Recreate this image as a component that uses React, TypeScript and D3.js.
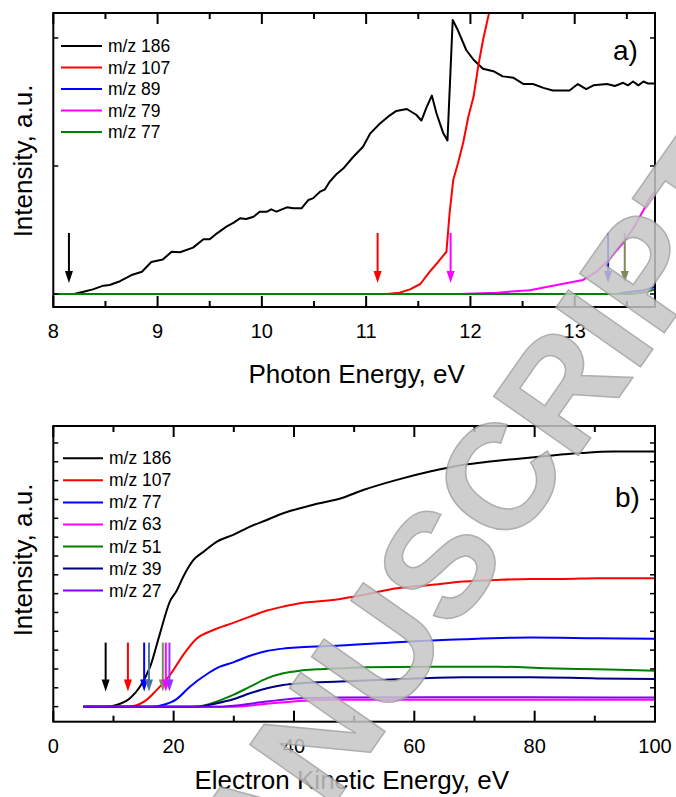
import React from 'react';
import * as d3 from 'd3';

const W = 676;
const H = 797;
const FONT = 'Liberation Sans, Arial, sans-serif';

// ---------- Panel a) photon energy ----------
const aLegend = ['m/z 186', 'm/z 107', 'm/z 89', 'm/z 79', 'm/z 77'];
const aColors = ['#000000', '#ff0000', '#0000ff', '#ff00ff', '#008000'];
const aMz186: [number, number][] = [
  [8.0, 0], [8.2, 0], [8.3, 0.02], [8.38, 0.036], [8.48, 0.065], [8.54, 0.07], [8.64, 0.1], [8.75, 0.148],
  [8.85, 0.174], [8.94, 0.25], [9.05, 0.27], [9.135, 0.33], [9.215, 0.326], [9.34, 0.362], [9.44, 0.427],
  [9.5, 0.427], [9.57, 0.474], [9.66, 0.526], [9.73, 0.557], [9.79, 0.591], [9.85, 0.586], [9.92, 0.604],
  [9.98, 0.643], [10.05, 0.643], [10.09, 0.661], [10.14, 0.643], [10.24, 0.677], [10.3, 0.669], [10.38, 0.669],
  [10.445, 0.734], [10.49, 0.747], [10.56, 0.8], [10.605, 0.818], [10.65, 0.877], [10.72, 0.94], [10.78, 0.98],
  [10.875, 1.07], [10.97, 1.15], [11.04, 1.255], [11.13, 1.33], [11.21, 1.385], [11.29, 1.43], [11.39, 1.445],
  [11.48, 1.4], [11.53, 1.355], [11.58, 1.46], [11.63, 1.55], [11.675, 1.41], [11.74, 1.255], [11.78, 1.2],
  [11.83, 2.14], [11.88, 2.06], [11.96, 1.906], [12.03, 1.83], [12.12, 1.76], [12.22, 1.74], [12.31, 1.7],
  [12.41, 1.69], [12.51, 1.64], [12.6, 1.64], [12.7, 1.61], [12.79, 1.59], [12.89, 1.59], [12.95, 1.59],
  [13.03, 1.64], [13.11, 1.6], [13.18, 1.63], [13.31, 1.64], [13.385, 1.625], [13.465, 1.65], [13.51, 1.63],
  [13.56, 1.66], [13.61, 1.63], [13.66, 1.66], [13.7, 1.645], [13.77, 1.645],
];
const aMz107: [number, number][] = [
  [8.0, 0], [11.2, 0], [11.32, 0.01], [11.42, 0.036], [11.52, 0.078], [11.61, 0.174], [11.69, 0.25],
  [11.77, 0.33], [11.8, 0.63], [11.835, 0.89], [11.88, 1.02], [11.93, 1.18], [11.98, 1.385], [12.03, 1.54],
  [12.075, 1.78], [12.12, 1.98], [12.18, 2.2], [12.25, 2.5],
];
const aMz89: [number, number][] = [[8.0, 0], [13.4, 0], [13.465, 0.01], [13.66, 0.03], [13.77, 0.055]];
const aMz79: [number, number][] = [
  [8.0, 0], [11.9, 0], [12.25, 0.01], [12.57, 0.03], [12.89, 0.08], [13.08, 0.11], [13.21, 0.174],
  [13.34, 0.28], [13.465, 0.4], [13.56, 0.51], [13.66, 0.656], [13.72, 0.75], [13.77, 0.8],
];
const aMz77: [number, number][] = [[8.0, 0], [13.55, 0], [13.66, 0.012], [13.77, 0.035]];
const aSeries = [aMz186, aMz107, aMz89, aMz79, aMz77];
const aXDomain: [number, number] = [8, 13.77];
const aYDomain: [number, number] = [-0.1016, 2.195];
const aXMajor = [8, 9, 10, 11, 12, 13];
const aXMinor = [8.5, 9.5, 10.5, 11.5, 12.5, 13.5];
const aYTicks = [0, 1, 2];
const aArrowX = [8.15, 11.11, 11.81, 13.32, 13.48];
const aArrowColors = ['#000000', '#ff0000', '#ff00ff', '#0000ff', '#7d8c5a'];
const aArrowTop = 0.477;
const aArrowTip = 0.086;

// ---------- Panel b) electron kinetic energy ----------
const bLegend = ['m/z 186', 'm/z 107', 'm/z 77', 'm/z 63', 'm/z 51', 'm/z 39', 'm/z 27'];
const bColors = ['#000000', '#ff0000', '#0000ff', '#ff00ff', '#008000', '#000080', '#8000ff'];
const bMz186: [number, number][] = [
  [5, 0], [9, 0], [10.5, 0.09], [12.75, 0.45], [14.4, 1.06], [16.1, 2.12], [17.7, 3.85], [19.4, 5.6],
  [20.5, 6.15], [21.6, 6.9], [23.3, 7.79], [25, 8.23], [27.2, 8.76], [29.9, 9.12], [32.7, 9.56], [35.5, 9.91],
  [38.2, 10.27], [41, 10.53], [43.8, 10.77], [47.7, 11.05], [51.5, 11.5], [57.1, 12.04], [62.6, 12.48],
  [68.2, 12.84], [72.6, 13.01], [76.5, 13.14], [82, 13.31], [87.6, 13.46], [93.1, 13.54], [100, 13.54],
];
const bMz107: [number, number][] = [
  [5, 0], [12, 0], [13.3, 0.03], [15.5, 0.36], [17.2, 0.89], [19.4, 1.68], [21.6, 2.75], [23.8, 3.6],
  [26.6, 4.07], [29.9, 4.45], [32.7, 4.78], [35.5, 5.1], [38.2, 5.31], [41, 5.49], [43.8, 5.58], [47.7, 5.72],
  [51.5, 5.93], [57.1, 6.29], [62.6, 6.46], [68.2, 6.64], [73.7, 6.73], [79.3, 6.78], [84.8, 6.78],
  [90.4, 6.82], [100, 6.82],
];
const bMz77: [number, number][] = [
  [5, 0], [16.5, 0], [17.7, 0.05], [19.4, 0.21], [20.5, 0.4], [22.7, 1.06], [25.5, 1.72], [27.7, 2.12],
  [29.9, 2.35], [32.7, 2.7], [35.5, 2.95], [38.2, 3.08], [41, 3.15], [47.7, 3.24], [57.1, 3.42], [68.2, 3.58],
  [79.3, 3.67], [90.4, 3.63], [100, 3.6],
];
const bMz63: [number, number][] = [[5, 0], [30, 0], [35.5, 0.15], [41, 0.3], [47.7, 0.36], [62.6, 0.37], [100, 0.37]];
const bMz51: [number, number][] = [
  [5, 0], [23, 0], [24.4, 0.02], [27.2, 0.27], [29.9, 0.62], [32.7, 1.06], [35.5, 1.5], [38.2, 1.77],
  [41, 1.91], [43.8, 1.98], [47.7, 2.04], [51.5, 2.09], [62.6, 2.12], [73.7, 2.12], [82, 2.04], [90.4, 1.98],
  [100, 1.91],
];
const bMz39: [number, number][] = [
  [5, 0], [24, 0], [27.2, 0.18], [29.9, 0.39], [32.7, 0.71], [35.5, 0.98], [38.2, 1.15], [41, 1.24],
  [47.7, 1.33], [57.1, 1.45], [68.2, 1.56], [79.3, 1.56], [90.4, 1.5], [100, 1.47],
];
const bMz27: [number, number][] = [
  [5, 0], [28, 0], [29.9, 0.05], [35.5, 0.27], [41, 0.44], [47.7, 0.48], [62.6, 0.5], [79.3, 0.5], [100, 0.48],
];
const bSeries = [bMz186, bMz107, bMz77, bMz63, bMz51, bMz39, bMz27];
const bXDomain: [number, number] = [0, 100];
const bYDomain: [number, number] = [-0.8, 14.9];
const bXMajor = [0, 20, 40, 60, 80, 100];
const bXMinor = [10, 30, 50, 70, 90];
const bYTicks = d3.range(0, 15);
const bArrowX = [8.7, 12.4, 15.1, 15.9, 18.2, 18.7, 19.3];
const bArrowColors = ['#000000', '#ff0000', '#0000ff', '#4a6fa0', '#7d8c5a', '#ff00ff', '#9933ff'];
const bArrowTop = 3.4;
const bArrowTip = 0.8;

type PanelProps = {
  id: string;
  box: { l: number; r: number; t: number; b: number };
  xDomain: [number, number];
  yDomain: [number, number];
  series: [number, number][][];
  colors: string[];
  legend: string[];
  legendPos: { x: number; y: number; dy: number; len: number };
  xMajor: number[];
  xMinor: number[];
  yTicks: number[];
  arrowsX: number[];
  arrowColors: string[];
  arrowTop: number;
  arrowTip: number;
  smooth: boolean;
  label: string;
  labelPos: { x: number; y: number };
  xTitle: string;
  xTitlePos: { x: number; y: number };
  yTitleY: number;
};

function Panel(p: PanelProps) {
  const x = d3.scaleLinear().domain(p.xDomain).range([p.box.l, p.box.r]);
  const y = d3.scaleLinear().domain(p.yDomain).range([p.box.b, p.box.t]);
  const line = d3
    .line<[number, number]>()
    .x((d) => x(d[0]))
    .y((d) => y(d[1]))
    .curve(p.smooth ? d3.curveMonotoneX : d3.curveLinear);
  const clipId = `clip-${p.id}`;
  const majorLen = 11;
  const minorLen = 6;
  const yLen = 5;
  return (
    <g>
      <defs>
        <clipPath id={clipId}>
          <rect x={p.box.l} y={p.box.t} width={p.box.r - p.box.l} height={p.box.b - p.box.t} />
        </clipPath>
      </defs>
      <g clipPath={`url(#${clipId})`}>
        {p.series.map((s, i) => (
          <path key={i} d={line(s) || ''} fill="none" stroke={p.colors[i]} strokeWidth={2} strokeLinejoin="round" />
        ))}
      </g>
      {p.arrowsX.map((ax, i) => {
        const cx = x(ax);
        const yt = y(p.arrowTop);
        const yb = y(p.arrowTip);
        return (
          <g key={i}>
            <line x1={cx} x2={cx} y1={yt} y2={yb - 10} stroke={p.arrowColors[i]} strokeWidth={2} />
            <path d={`M${cx - 4},${yb - 12} L${cx + 4},${yb - 12} L${cx},${yb} Z`} fill={p.arrowColors[i]} />
          </g>
        );
      })}
      <rect
        x={p.box.l}
        y={p.box.t}
        width={p.box.r - p.box.l}
        height={p.box.b - p.box.t}
        fill="none"
        stroke="#000"
        strokeWidth={2}
      />
      {p.xMajor.map((v) => (
        <g key={`xm${v}`}>
          <line x1={x(v)} x2={x(v)} y1={p.box.b} y2={p.box.b - majorLen} stroke="#000" strokeWidth={2} />
          <line x1={x(v)} x2={x(v)} y1={p.box.t} y2={p.box.t + majorLen} stroke="#000" strokeWidth={2} />
          <text x={x(v)} y={p.box.b + 31} textAnchor="middle" fontSize={20} fontFamily={FONT} fill="#000">
            {v}
          </text>
        </g>
      ))}
      {p.xMinor.map((v) => (
        <g key={`xn${v}`}>
          <line x1={x(v)} x2={x(v)} y1={p.box.b} y2={p.box.b - minorLen} stroke="#000" strokeWidth={2} />
          <line x1={x(v)} x2={x(v)} y1={p.box.t} y2={p.box.t + minorLen} stroke="#000" strokeWidth={2} />
        </g>
      ))}
      {p.yTicks.map((v) => (
        <g key={`y${v}`}>
          <line x1={p.box.l} x2={p.box.l + yLen} y1={y(v)} y2={y(v)} stroke="#000" strokeWidth={1.5} />
          <line x1={p.box.r} x2={p.box.r - yLen} y1={y(v)} y2={y(v)} stroke="#000" strokeWidth={1.5} />
        </g>
      ))}
      {p.legend.map((name, i) => {
        const ly = p.legendPos.y + i * p.legendPos.dy;
        return (
          <g key={name + i}>
            <line
              x1={p.legendPos.x}
              x2={p.legendPos.x + p.legendPos.len}
              y1={ly}
              y2={ly}
              stroke={p.colors[i]}
              strokeWidth={2}
            />
            <text x={p.legendPos.x + p.legendPos.len + 6} y={ly + 6} fontSize={17.5} fontFamily={FONT} fill="#000">
              {name}
            </text>
          </g>
        );
      })}
      <text x={p.labelPos.x} y={p.labelPos.y} fontSize={28} fontFamily={FONT} fill="#000">
        {p.label}
      </text>
      <text x={p.xTitlePos.x} y={p.xTitlePos.y} textAnchor="middle" fontSize={26} fontFamily={FONT} fill="#000">
        {p.xTitle}
      </text>
      <text
        transform={`translate(32,${p.yTitleY}) rotate(-90)`}
        textAnchor="middle"
        fontSize={26}
        fontFamily={FONT}
        fill="#000"
      >
        Intensity, a.u.
      </text>
    </g>
  );
}

export default function App() {
  return (
    <svg
      width={W}
      height={H}
      viewBox={`0 0 ${W} ${H}`}
      style={{ position: 'absolute', left: 0, top: 0, background: '#fff' }}
    >
      <rect x={0} y={0} width={W} height={H} fill="#fff" />
      <Panel
        id="a"
        box={{ l: 53.3, r: 655, t: 13, b: 307 }}
        xDomain={aXDomain}
        yDomain={aYDomain}
        series={aSeries}
        colors={aColors}
        legend={aLegend}
        legendPos={{ x: 61, y: 46, dy: 21.5, len: 41 }}
        xMajor={aXMajor}
        xMinor={aXMinor}
        yTicks={aYTicks}
        arrowsX={aArrowX}
        arrowColors={aArrowColors}
        arrowTop={aArrowTop}
        arrowTip={aArrowTip}
        smooth={false}
        label="a)"
        labelPos={{ x: 613, y: 60 }}
        xTitle="Photon Energy, eV"
        xTitlePos={{ x: 356.7, y: 383 }}
        yTitleY={161}
      />
      <Panel
        id="b"
        box={{ l: 53.3, r: 655, t: 426, b: 721.7 }}
        xDomain={bXDomain}
        yDomain={bYDomain}
        series={bSeries}
        colors={bColors}
        legend={bLegend}
        legendPos={{ x: 63, y: 458.3, dy: 22.05, len: 40 }}
        xMajor={bXMajor}
        xMinor={bXMinor}
        yTicks={bYTicks}
        arrowsX={bArrowX}
        arrowColors={bArrowColors}
        arrowTop={bArrowTop}
        arrowTip={bArrowTip}
        smooth={true}
        label="b)"
        labelPos={{ x: 615, y: 506.7 }}
        xTitle="Electron Kinetic Energy, eV"
        xTitlePos={{ x: 351.7, y: 789 }}
        yTitleY={560}
      />
      <text
        transform="translate(195,1003) rotate(-55)"
        fontSize={150}
        fontWeight="bold"
        fontFamily={FONT}
        fill="#c6c6c6"
        stroke="#a0a0a0"
        strokeWidth={1.5}
        opacity={0.85}
      >
        MANUSCRIPT
      </text>
    </svg>
  );
}
